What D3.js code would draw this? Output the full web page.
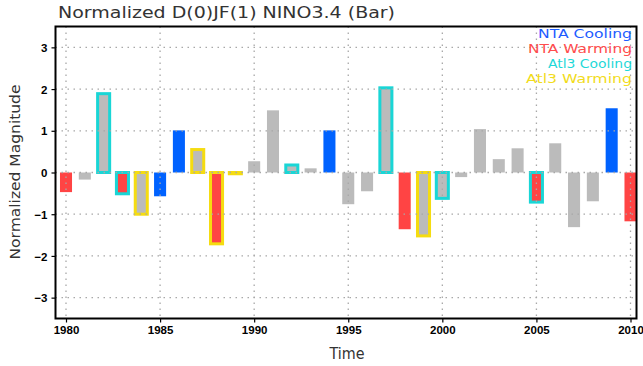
<!DOCTYPE html>
<html>
<head>
<meta charset="utf-8">
<script src="https://cdn.jsdelivr.net/npm/d3@7"></script>
<style>
  body { margin: 0; background: #fff; }
  svg { display: block; }
  .thin { font-family: "DejaVu Sans", sans-serif; font-weight: normal; }
</style>
</head>
<body>
<div id="chart"></div>
<script>
// data
var years = d3.range(1980, 2011);
var values = [-0.47, -0.17, 1.89, -0.51, -1.00, -0.57, 1.01, 0.55, -1.71, -0.03,
              0.27, 1.49, 0.18, 0.10, 1.01, -0.76, -0.45, 2.03, -1.36, -1.52,
              -0.62, -0.11, 1.04, 0.32, 0.58, -0.71, 0.70, -1.31, -0.69, 1.54, -1.17];
var ntaCooling = [1985, 1986, 1994, 2009];
var ntaWarming = [1980, 1983, 1988, 1998, 2005, 2010];
var atl3Cooling = [1982, 1983, 1992, 1997, 2000, 2005];
var atl3Warming = [1984, 1987, 1988, 1989, 1999];
var xTicks = [1980, 1985, 1990, 1995, 2000, 2005, 2010];
var yTicks = [-3, -2, -1, 0, 1, 2, 3];
var legendLabels = ["NTA Cooling", "NTA Warming", "Atl3 Cooling", "Atl3 Warming"];

// plot box (note: "top" is reserved on window, so use p* names)
var W = 643, H = 366,
    pLeft = 55.5, pRight = 636.5, pTop = 26.5, pBottom = 318.5;

var svg = d3.select("#chart").append("svg")
    .attr("width", W).attr("height", H);

var x = d3.scaleLinear().domain([1980, 2010]).range([66, 630.5]);
var y = d3.scaleLinear().domain([-3.5, 3.5]).range([pBottom, pTop]);
var half = (x(1980.32) - x(1980));

var cGray = "#bbbbbb", cBlue = "#0062ff", cRed = "#ff4444",
    cCyan = "#19d6d6", cYellow = "#f5dc10";

function fillOf(yr) {
  if (ntaCooling.indexOf(yr) >= 0) return cBlue;
  if (ntaWarming.indexOf(yr) >= 0) return cRed;
  return cGray;
}
function strokeOf(yr) {
  if (atl3Cooling.indexOf(yr) >= 0) return cCyan;
  if (atl3Warming.indexOf(yr) >= 0) return cYellow;
  return "none";
}

var data = years.map(function(d, i){ return {year: d, v: values[i]}; });

// bars
svg.append("g").selectAll("rect").data(data).enter().append("rect")
    .attr("x", function(d){ return x(d.year) - half; })
    .attr("width", half * 2)
    .attr("y", function(d){ return y(Math.max(0, d.v)); })
    .attr("height", function(d){ return Math.abs(y(d.v) - y(0)); })
    .attr("fill", function(d){ return fillOf(d.year); })
    .attr("stroke", function(d){ return strokeOf(d.year); })
    .attr("stroke-width", 3);

// dotted grid, on top of bars
var grid = svg.append("g").attr("stroke", "#a8a8a8").attr("stroke-width", 1.3)
    .attr("stroke-dasharray", "1.5,4.5");
grid.selectAll(".gx").data(xTicks).enter().append("line")
    .attr("x1", function(d){ return x(d); }).attr("x2", function(d){ return x(d); })
    .attr("y1", pTop).attr("y2", pBottom);
grid.selectAll(".gy").data(yTicks).enter().append("line")
    .attr("x1", pLeft).attr("x2", pRight)
    .attr("y1", function(d){ return y(d); }).attr("y2", function(d){ return y(d); });

// frame
svg.append("rect")
    .attr("x", pLeft).attr("y", pTop).attr("width", pRight - pLeft).attr("height", pBottom - pTop)
    .attr("fill", "none").attr("stroke", "#000").attr("stroke-width", 2);

// axes
var xAxis = d3.axisBottom(x).tickValues(xTicks).tickFormat(d3.format("d"))
    .tickSizeInner(4).tickSizeOuter(0).tickPadding(3);
var gx = svg.append("g").attr("transform", "translate(0," + pBottom + ")").call(xAxis);
var yAxis = d3.axisLeft(y).tickValues(yTicks).tickFormat(d3.format("d"))
    .tickSizeInner(4).tickSizeOuter(0).tickPadding(4);
var gy = svg.append("g").attr("transform", "translate(" + pLeft + ",0)").call(yAxis);
[gx, gy].forEach(function(g){
  g.select(".domain").remove();
  g.selectAll("line").attr("stroke", "#000").attr("stroke-width", 1.2);
  g.selectAll("text").attr("fill", "#000")
    .style("font-family", "Liberation Sans, Arial, sans-serif")
    .style("font-weight", "bold").style("font-size", "11.5px");
});
gy.selectAll("text").attr("dy", "0.36em");

// title and axis labels
svg.append("text").attr("class", "thin")
    .attr("x", 58).attr("y", 18)
    .attr("textLength", 337).attr("lengthAdjust", "spacingAndGlyphs")
    .style("font-size", "15px")
    .attr("fill", "#333")
    .text("Normalized D(0)JF(1) NINO3.4 (Bar)");

svg.append("text").attr("class", "thin")
    .attr("x", 347).attr("y", 359).attr("text-anchor", "middle")
    .attr("textLength", 35).attr("lengthAdjust", "spacingAndGlyphs")
    .style("font-size", "15px")
    .attr("fill", "#333")
    .text("Time");

svg.append("text").attr("class", "thin")
    .attr("transform", "translate(20,172) rotate(-90)")
    .attr("text-anchor", "middle")
    .attr("textLength", 175).attr("lengthAdjust", "spacingAndGlyphs")
    .style("font-size", "14px")
    .attr("fill", "#333")
    .text("Normalized Magnitude");

// legend (text only, right aligned)
var legendColors = ["#1d5cff", "#ff4d4d", "#1ed8d8", "#f2dc1c"];
var legendWidths = [94, 104, 84, 106];
svg.append("g").selectAll("text").data(legendLabels).enter().append("text")
    .attr("class", "thin")
    .attr("x", function(d, i){ return 632 - legendWidths[i]; })
    .attr("y", function(d, i){ return 37.5 + i * 15.3; })
    .attr("textLength", function(d, i){ return legendWidths[i]; })
    .attr("lengthAdjust", "spacingAndGlyphs")
    .style("font-size", "13px")
    .attr("fill", function(d, i){ return legendColors[i]; })
    .text(function(d){ return d; });
</script>
</body>
</html>
